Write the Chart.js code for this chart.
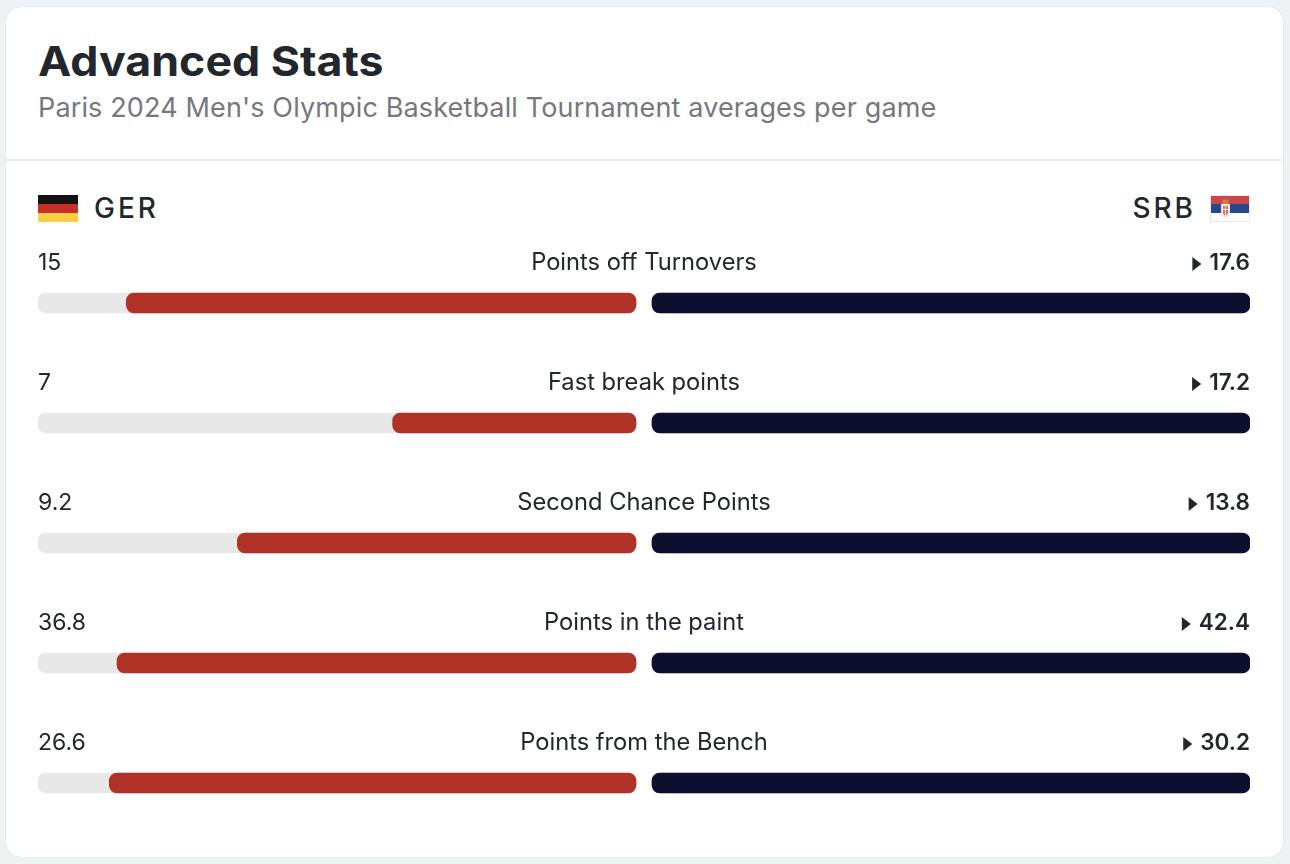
<!DOCTYPE html>
<html>
<head>
<meta charset="utf-8">
<title>Advanced Stats</title>
<script src="https://cdn.jsdelivr.net/npm/chart.js@4"></script>
<style>
  html, body { margin: 0; padding: 0; width: 1290px; height: 864px; overflow: hidden; background: #eff2f4; font-family: Inter, sans-serif; color: #22272e; }
  #card { position: absolute; left: 5px; top: 6px; width: 1277px; height: 850px; background: #fff; border: 1px solid #e6e9eb; border-radius: 16px; }
  .abs { position: absolute; white-space: nowrap; }
  #title { left: 38px; top: 34px; font-size: 41px; line-height: 54px; font-weight: 700; transform: scaleX(1.09); transform-origin: left center; }
  #sub { left: 38px; top: 90px; font-size: 27px; line-height: 36px; letter-spacing: .14px; color: #75787c; }
  #rule { left: 6px; top: 159px; width: 1276px; height: 2px; background: #e9ebed; }
  .team { top: 190px; font-size: 28px; line-height: 36px; font-weight: 500; letter-spacing: 3px; }
  .flag { top: 195px; width: 40px; height: 27px; }
  #wrap { position: absolute; left: 38px; top: 243px; width: 1212px; height: 600px; }
</style>
</head>
<body>
<div id="card"></div>
<div class="abs" id="title">Advanced Stats</div>
<div class="abs" id="sub">Paris 2024 Men's Olympic Basketball Tournament averages per game</div>
<div class="abs" id="rule"></div>

<svg class="abs flag" style="left:38px" viewBox="0 0 40 27">
  <rect width="40" height="9" fill="#14120e"/>
  <rect y="9" width="40" height="9" fill="#c92f26"/>
  <rect y="18" width="40" height="9" fill="#fbcf45"/>
</svg>
<div class="abs team" style="left:94px">GER</div>
<div class="abs team" style="right:94px">SRB</div>
<svg class="abs flag" style="left:1210px" viewBox="0 0 40 27">
  <rect width="40" height="9" fill="#cc474d"/>
  <rect y="9" width="40" height="9" fill="#234a8c"/>
  <rect y="18" width="40" height="9" fill="#fff"/>
  <rect x=".5" y=".5" width="39" height="26" fill="none" stroke="#e8e8e8"/>
  <path d="M11 9h9v8c0 3-2 5-4.500 6-2.500-1-4.500-3-4.500-6z" fill="#f1e4df"/>
  <path d="M12 4l2 1.500 1.500-2 1.500 2 2-1.500-1 5h-5z" fill="#c58a3c"/>
  <path d="M13 11h5v6c0 1.500-1 3-2.500 4-1.500-1-2.500-2.500-2.500-4z" fill="#cf7068"/>
  <path d="M15 11h1v10h-1zM13 14h5v1h-5z" fill="#f4eeee"/>
</svg>

<div id="wrap"><canvas id="chart"></canvas></div>

<script>
const categories = ["Points off Turnovers", "Fast break points", "Second Chance Points", "Points in the paint", "Points from the Bench"];
const gerValues = [15, 7, 9.2, 36.8, 26.6];
const srbValues = [17.6, 17.2, 13.8, 42.4, 30.2];

const RED = "#b03226";
const NAVY = "#0c0f2e";
const TRACK = "#e8e8e8";
const INK = "#22272e";

// each row is scaled to its own larger value, a full bar is 1
const gap = 8 / 598;
const share = (v, i) => v / Math.max(gerValues[i], srbValues[i]);

const rowLabels = {
  id: "rowLabels",
  afterDatasetsDraw(chart) {
    const { ctx, scales: { x, y } } = chart;
    ctx.save();
    ctx.fillStyle = INK;
    ctx.textBaseline = "middle";
    categories.forEach((name, i) => {
      const ty = y.getPixelForValue(i) - 40;
      const left = x.getPixelForValue(-1 - gap);
      const right = x.getPixelForValue(1 + gap);
      const mid = x.getPixelForValue(0);

      ctx.font = "400 23px Inter";
      ctx.textAlign = "left";
      ctx.fillText(String(gerValues[i]), left, ty);
      ctx.font = "400 23.7px Inter";
      ctx.textAlign = "center";
      ctx.fillText(name, mid, ty);

      ctx.font = "600 22.5px Inter";
      ctx.textAlign = "right";
      const txt = String(srbValues[i]);
      ctx.fillText(txt, right, ty);

      // little arrow next to the higher value
      const tx = right - ctx.measureText(txt).width - 8;
      ctx.beginPath();
      ctx.moveTo(tx, ty + 1);
      ctx.lineTo(tx - 9, ty - 6);
      ctx.lineTo(tx - 9, ty + 8);
      ctx.closePath();
      ctx.fill();
    });
    ctx.restore();
  }
};

const barStyle = { borderRadius: 8, borderSkipped: false, barThickness: 20, grouped: false };

new Chart(document.getElementById("chart"), {
  type: "bar",
  data: {
    labels: categories,
    datasets: [
      { label: "GER", data: gerValues.map((v, i) => [-gap - share(v, i), -gap]), backgroundColor: RED, order: 1, ...barStyle },
      { label: "SRB", data: srbValues.map((v, i) => [gap, gap + share(v, i)]), backgroundColor: NAVY, order: 1, ...barStyle },
      { label: "track GER", data: categories.map(() => [-gap - 1, -gap]), backgroundColor: TRACK, order: 2, ...barStyle },
      { label: "track SRB", data: categories.map(() => [gap, gap + 1]), backgroundColor: TRACK, order: 2, ...barStyle }
    ]
  },
  options: {
    indexAxis: "y",
    responsive: true,
    maintainAspectRatio: false,
    animation: false,
    layout: { padding: 0 },
    plugins: { legend: { display: false }, tooltip: { enabled: false } },
    scales: {
      x: { type: "linear", min: -1 - gap, max: 1 + gap, display: false },
      y: { type: "category", display: false }
    }
  },
  plugins: [rowLabels]
});
</script>
</body>
</html>
